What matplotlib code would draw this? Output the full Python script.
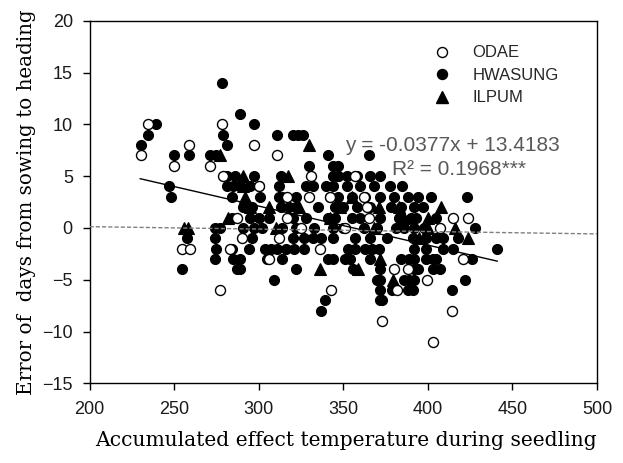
import matplotlib
matplotlib.use('Agg')
import matplotlib.pyplot as plt
from matplotlib.lines import Line2D

# ODAE (open circles)
odae_x = [230.5, 234.5, 250, 259, 271, 278.5, 279, 297, 311, 331, 357, 300, 317, 330, 342,
          362, 364, 254.5, 259.5, 277, 283, 290, 287, 306, 312, 316.5, 325, 336, 343, 351,
          365, 373, 380, 381.5, 388, 399.5, 403, 407, 415, 424, 414, 421]
odae_y = [7, 10, 6, 8, 6, 10, 5, 8, 7, 5, 5, 4, 3, 3, 3,
          3, 2, -2, -2, -6, -2, -1, 1, -3, -1, 1, 0, -2, -6, 0,
          1, -9, -4, -6, -4, -5, -11, 0, 1, 1, -8, -3]

# HWASUNG (filled circles)
hwa_x = [230.5, 234.5, 239.5, 250, 247, 248, 259, 271, 275, 278.5, 279, 281, 289, 297,
         311, 320, 323, 326, 330, 341, 344, 347, 365, 344, 347,
         281, 286, 297, 313, 347, 352, 358, 366, 372,
         281, 285, 289, 295, 300, 312, 328, 332, 340, 344, 352, 360, 368, 377.5, 385,
         284, 301, 312, 314, 322, 342, 347, 355, 363, 372, 380, 388, 394, 402, 423,
         291, 296, 313, 318, 322, 335, 345, 350, 358, 366, 378, 384, 392, 397,
         284, 295, 300, 306, 320, 328, 341, 345, 355, 360, 372, 383, 390, 405, 393,
         274, 277, 291, 297, 302, 314, 322, 333, 344, 350, 362, 370, 381, 386, 392, 398, 428,
         257.5, 274, 296, 320, 327, 332, 337, 344, 357, 366, 376, 391, 399, 405, 409, 418,
         275, 284, 294, 304, 307, 311, 316, 321, 327, 353, 357, 363, 367, 371, 392, 399, 409,
         415, 441,
         274, 285, 289, 305, 314, 341, 344, 351, 354, 366, 384, 389, 392, 399, 403, 405, 426,
         254.5, 287, 289, 322, 356, 372, 392, 394, 403, 407,
         309, 370, 372, 386, 389, 392, 422,
         372, 379, 388, 391, 414,
         339, 372, 373, 337]
hwa_y = [8, 9, 10, 7, 4, 3, 7, 7, 7, 14, 9, 8, 11, 10,
         9, 9, 9, 9, 6, 7, 6, 6, 7, 5, 5,
         5, 5, 5, 5, 5, 5, 5, 5, 5,
         4, 4, 4, 4, 4, 4, 4, 4, 4, 4, 4, 4, 4, 4, 4,
         3, 3, 3, 3, 3, 3, 3, 3, 3, 3, 3, 3, 3, 3, 3,
         2, 2, 2, 2, 2, 2, 2, 2, 2, 2, 2, 2, 2, 2,
         1, 1, 1, 1, 1, 1, 1, 1, 1, 1, 1, 1, 1, 1, 1,
         0, 0, 0, 0, 0, 0, 0, 0, 0, 0, 0, 0, 0, 0, 0, 0, 0,
         -1, -1, -1, -1, -1, -1, -1, -1, -1, -1, -1, -1, -1, -1, -1, -1,
         -2, -2, -2, -2, -2, -2, -2, -2, -2, -2, -2, -2, -2, -2, -2, -2, -2,
         -2, -2,
         -3, -3, -3, -3, -3, -3, -3, -3, -3, -3, -3, -3, -3, -3, -3, -3, -3,
         -4, -4, -4, -4, -4, -4, -4, -4, -4, -4,
         -5, -5, -5, -5, -5, -5, -5,
         -6, -6, -6, -6, -6,
         -7, -7, -7, -8]

# ILPUM (filled triangles)
ilpum_x = [256, 258.5, 277, 282, 291, 291, 292, 295, 306, 310, 317.5, 324, 330, 336,
           342, 348, 355, 359, 368, 371, 372, 379.5, 383, 386, 395, 400, 400, 408, 416, 424]
ilpum_y = [0, 0, 7, 1, 5, 4, 3, 2, 2, 0, 5, 2, 8, -4,
           1, 2, 3, -4, 0, 2, -3, -5, 2, 1, -1, 1, 0, 2, 0, -1]

# regression line and reference line
slope, intercept = -0.0377, 13.4183
fit_range = [230, 441]
ref_x = [200, 500]
ref_y = [0.12, -0.58]

x_ticks = [200, 250, 300, 350, 400, 450, 500]
y_ticks = [-15, -10, -5, 0, 5, 10, 15, 20]

fig = plt.figure(figsize=(6.23, 4.63), dpi=100)
ax = fig.add_axes([89.5 / 623, 1 - 383.3 / 463, 507.5 / 623, 362.6 / 463])

ms = 7.2
ax.plot(hwa_x, hwa_y, 'o', ms=ms, mfc='black', mec='black', mew=0.8, ls='none', zorder=3)
ax.plot(ilpum_x, ilpum_y, '^', ms=ms + 1, mfc='black', mec='black', mew=0.8, ls='none', zorder=3)
ax.plot(odae_x, odae_y, 'o', ms=ms, mfc='white', mec='black', mew=1.0, ls='none', zorder=4)

fit_y = [slope * v + intercept for v in fit_range]
ax.plot(fit_range, fit_y, color='black', lw=1.0, zorder=5)
ax.plot(ref_x, ref_y, color='#808080', lw=1.0, ls=(0, (3, 1.5)), zorder=5)

ax.set_xlim(200, 500)
ax.set_ylim(-15, 20)
ax.set_xticks(x_ticks)
ax.set_yticks(y_ticks)
ax.tick_params(direction='out', length=5, width=1, labelsize=13, colors='black',
               top=False, right=False)
ax.tick_params(axis='x', pad=8)
ax.tick_params(axis='y', pad=7)
for lbl in ax.get_xticklabels() + ax.get_yticklabels():
    lbl.set_family('Liberation Sans')
    lbl.set_color('#1a1a1a')
for sp in ax.spines.values():
    sp.set_linewidth(1.0)

fig.text(346 / 623, 1 - 441 / 463, 'Accumulated effect temperature during seedling',
         family='DejaVu Serif', fontsize=14.6, ha='center', va='center')
fig.text(27 / 623, 1 - 202 / 463, 'Error of  days from sowing to heading',
         family='DejaVu Serif', fontsize=14.3, ha='center', va='center', rotation=90)

handles = [
    Line2D([], [], marker='o', ls='none', ms=ms, mfc='white', mec='black', mew=1.0),
    Line2D([], [], marker='o', ls='none', ms=ms, mfc='black', mec='black'),
    Line2D([], [], marker='^', ls='none', ms=ms + 1, mfc='black', mec='black'),
]
ax.legend(handles, ['ODAE', 'HWASUNG', 'ILPUM'], loc='upper left',
          bbox_to_anchor=(0.662, 0.955), frameon=False, borderpad=0,
          handlelength=1.0, handletextpad=1.3, labelspacing=0.45,
          prop={'family': 'Liberation Sans', 'size': 12}, labelcolor='#262626')

ax.text(351, 8.0, 'y = -0.0377x + 13.4183', fontsize=15, color='#595959',
        family='Liberation Sans', va='center', ha='left', zorder=6)
ax.text(378.8, 5.6, 'R² = 0.1968***', fontsize=15, color='#595959',
        family='Liberation Sans', va='center', ha='left', zorder=6)

fig.savefig('out.png', dpi=100)
